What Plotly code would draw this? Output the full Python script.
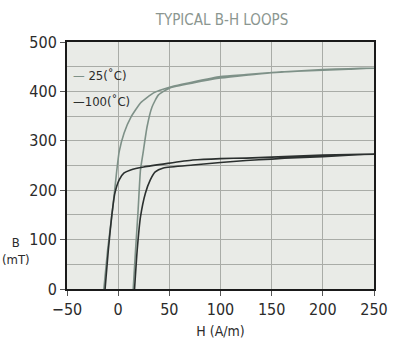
import plotly.graph_objects as go

# Hysteresis loops: rising branch (from +Hc) then falling branch back to -Hc
h_25 = [14.7, 17, 19.5, 21.8, 24.3, 28.2, 33, 39.4, 50.6, 73, 100, 125, 150, 175, 200, 225, 250,
        225, 200, 175, 150, 125, 100, 73, 51, 34.6, 22, 12.5, 5.8, 1, -1.3, -5.5, -10.3, -14]
b_25 = [0, 79, 160, 241, 275, 328, 368, 393, 407, 417, 427, 433, 438, 441, 443, 445, 447,
        446, 444, 441, 438, 434, 430, 419, 409, 397, 377, 348, 316, 278, 241, 160, 79, 0]

h_100 = [16, 18.6, 21.8, 26.6, 31.4, 36.2, 44.2, 73, 100, 125, 150, 175, 200, 225, 250,
         225, 200, 175, 150, 125, 100, 73, 25, 12.2, 5.8, 1, -3.2, -6.4, -9.6, -12.8]
b_100 = [0, 79, 146, 194, 221, 237, 245, 251, 256, 260, 263, 266, 268, 271, 273,
         272, 271, 269, 267, 265, 264, 261, 247, 241, 235, 221, 194, 146, 79, 0]

series_names = ["25(˚C)", "100(˚C)"]
series_colors = ["#7e9188", "#2b302f"]

x_ticks = [-50, 0, 50, 100, 150, 200, 250]
y_ticks = [0, 100, 200, 300, 400, 500]

FONT = "DejaVu Sans Condensed, Liberation Sans Narrow, sans-serif"

fig = go.Figure()
for name, hx, by, col in zip(series_names, [h_25, h_100], [b_25, b_100], series_colors):
    fig.add_trace(go.Scatter(x=hx, y=by, mode="lines", name=name,
                             line=dict(color=col, width=1.6, shape="spline", smoothing=0.5),
                             showlegend=False, hoverinfo="skip"))

# Legend entries drawn as text with a coloured dash
for i, (name, col) in enumerate(zip(series_names, series_colors)):
    fig.add_annotation(xref="paper", yref="paper", x=0.012, y=0.865 - i * 0.105,
                       xanchor="left", yanchor="middle", showarrow=False,
                       text=f"<span style='color:{col}'>—</span>{' ' if i == 0 else ''}{name}",
                       font=dict(family=FONT, size=13, color="#2b2b2b"))

fig.update_layout(
    width=400, height=350,
    margin=dict(l=67, r=21, t=42, b=61),
    paper_bgcolor="white",
    plot_bgcolor="#e9ebe7",
    font=dict(family=FONT, color="#2b2b2b"),
    title=dict(text="TYPICAL B-H LOOPS", x=0.555, xanchor="center", y=0.945, yanchor="middle",
               font=dict(family=FONT, size=15, color="#8b9690")),
    xaxis=dict(range=[-50, 250], tickvals=x_ticks, showgrid=True, gridcolor="#a9aca7", gridwidth=1,
               zeroline=False, showline=True, linecolor="#1a1a1a", linewidth=2, mirror=True,
               ticks="outside", ticklen=5, tickcolor="#555", tickfont=dict(size=16, color="#2b2b2b"),
               title=dict(text="H (A/m)", font=dict(size=14, color="#2b2b2b"), standoff=8)),
    yaxis=dict(range=[0, 500], tickvals=y_ticks, showgrid=True, gridcolor="#a9aca7", gridwidth=1,
               minor=dict(dtick=50, showgrid=True, gridcolor="#a9aca7", gridwidth=1),
               zeroline=False, showline=True, linecolor="#1a1a1a", linewidth=2, mirror=True,
               ticks="outside", ticklen=5, tickcolor="#555", tickfont=dict(size=16, color="#2b2b2b")),
)

fig.add_annotation(xref="paper", yref="paper", x=-0.165, y=0.155, xanchor="center", yanchor="middle",
                   showarrow=False, text="B<br>(mT)", align="center",
                   font=dict(family=FONT, size=13, color="#2b2b2b"))

fig.write_html("out.html")
